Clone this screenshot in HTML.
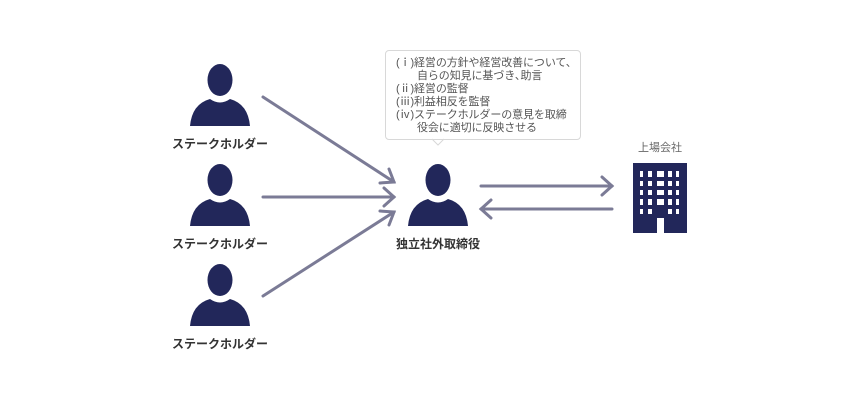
<!DOCTYPE html>
<html><head><meta charset="utf-8"><style>
body{margin:0;width:860px;height:400px;background:#fff;font-family:"Liberation Sans","Noto Sans CJK JP",sans-serif;position:relative;overflow:hidden}
.lbl{position:absolute;font-size:12px;font-weight:bold;color:#333;text-align:center;width:140px}
.box{position:absolute;left:385px;top:50px;width:196px;height:90px;border:1px solid #d8d8d8;border-radius:4px;box-sizing:border-box;font-size:11px;line-height:13px;color:#555;padding:6px 0 0 10px;white-space:nowrap;letter-spacing:-0.1px}
.ind{padding-left:21px}
</style></head><body>
<svg width="860" height="400" style="position:absolute;left:0;top:0">
<defs>
<g id="p"><ellipse cx="0" cy="16" rx="12.5" ry="16" fill="#22275a"/><path d="M-30 62 Q-28 40 -10 35 Q0 42 10 35 Q28 40 30 62 Z" fill="#22275a"/></g>
</defs>
<use href="#p" x="220" y="64"/><use href="#p" x="220" y="164"/><use href="#p" x="220" y="264"/><use href="#p" x="438" y="164"/>
<g stroke="#7b7b96" stroke-width="3" fill="none" stroke-linecap="round">
<line x1="263" y1="97" x2="394" y2="182"/><polyline points="380,183 394,182 389,169"/>
<line x1="263" y1="197" x2="394" y2="197"/><polyline points="384,188 394,197 384,206"/>
<line x1="263" y1="296" x2="394" y2="212"/><polyline points="389,225 394,212 380,211"/>
<line x1="481" y1="186" x2="612" y2="186"/><polyline points="602,177 612,186 602,195"/>
<line x1="612" y1="209" x2="481" y2="209"/><polyline points="491,200 481,209 491,218"/>
</g>
<rect x="633" y="163" width="54" height="70" fill="#22275a"/>
<g fill="#fff">
<rect x="640" y="171" width="3" height="6"/><rect x="648" y="171" width="4" height="6"/><rect x="657" y="171" width="7" height="6"/><rect x="668" y="171" width="4" height="6"/><rect x="676" y="171" width="3" height="6"/>
<rect x="640" y="181" width="3" height="5"/><rect x="648" y="181" width="4" height="5"/><rect x="657" y="181" width="7" height="5"/><rect x="668" y="181" width="4" height="5"/><rect x="676" y="181" width="3" height="5"/>
<rect x="640" y="190" width="3" height="5"/><rect x="648" y="190" width="4" height="5"/><rect x="657" y="190" width="7" height="5"/><rect x="668" y="190" width="4" height="5"/><rect x="676" y="190" width="3" height="5"/>
<rect x="640" y="199" width="3" height="6"/><rect x="648" y="199" width="4" height="6"/><rect x="657" y="199" width="7" height="6"/><rect x="668" y="199" width="4" height="6"/><rect x="676" y="199" width="3" height="6"/>
<rect x="640" y="209" width="3" height="5"/><rect x="648" y="209" width="4" height="5"/><rect x="657" y="218" width="7" height="15"/><rect x="668" y="209" width="4" height="5"/><rect x="676" y="209" width="3" height="5"/>
</g>
<path d="M432 139 L438 145 L444 139" fill="#fff" stroke="#d8d8d8"/>
</svg>
<div class="box">
<div>(ｉ)経営の方針や経営改善について、</div>
<div class="ind">自らの知見に基づき､助言</div>
<div>(ⅱ)経営の監督</div>
<div>(ⅲ)利益相反を監督</div>
<div>(ⅳ)ステークホルダーの意見を取締</div>
<div class="ind">役会に適切に反映させる</div>
</div>
<div class="lbl" style="left:150px;top:135px">ステークホルダー</div>
<div class="lbl" style="left:150px;top:235px">ステークホルダー</div>
<div class="lbl" style="left:150px;top:335px">ステークホルダー</div>
<div class="lbl" style="left:368px;top:235px">独立社外取締役</div>
<div style="position:absolute;left:620px;top:139px;width:80px;text-align:center;font-size:11px;color:#666">上場会社</div>
</body></html>
